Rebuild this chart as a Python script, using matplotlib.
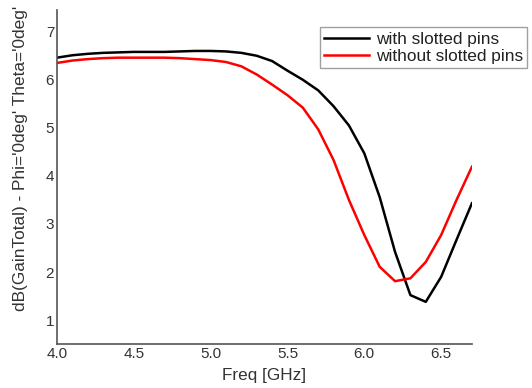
"""
Gain vs frequency: with / without slotted pins
"""
import matplotlib
matplotlib.use("Agg")
import matplotlib.pyplot as plt
import numpy as np

# Frequency sweep (GHz)
freq = [4.0, 4.1, 4.2, 4.3, 4.4, 4.5, 4.6, 4.7, 4.8, 4.9, 5.0, 5.1, 5.2, 5.3,
        5.4, 5.5, 5.6, 5.7, 5.8, 5.9, 6.0, 6.1, 6.2, 6.3, 6.4, 6.5, 6.6, 6.7]

# dB(GainTotal)
gain_with = [6.46, 6.51, 6.54, 6.56, 6.57, 6.58, 6.58, 6.58, 6.59, 6.60, 6.60,
             6.59, 6.56, 6.50, 6.39, 6.19, 6.00, 5.78, 5.45, 5.05, 4.47, 3.56,
             2.42, 1.52, 1.38, 1.90, 2.67, 3.43]
gain_without = [6.35, 6.40, 6.43, 6.45, 6.46, 6.46, 6.46, 6.46, 6.45, 6.43, 6.41,
                6.37, 6.28, 6.11, 5.90, 5.68, 5.42, 4.97, 4.33, 3.50, 2.77, 2.11,
                1.81, 1.87, 2.21, 2.77, 3.50, 4.19]

labels = ["with slotted pins", "without slotted pins"]
colors = ["black", "#ff0000"]

plt.rcParams["font.family"] = ["Liberation Sans", "DejaVu Sans"]
text_col = "#333333"

fig = plt.figure(figsize=(5.32, 3.88), dpi=100)
ax = fig.add_axes([0.107, 0.113, 0.78, 0.861])

ax.plot(freq, gain_with, color=colors[0], lw=1.8, label=labels[0])
ax.plot(freq, gain_without, color=colors[1], lw=1.8, label=labels[1])

ax.set_xlim(4.0, 6.7)
ax.set_ylim(0.5, 7.45)
ax.set_xticks(np.arange(4.0, 6.51, 0.5))
ax.set_xticklabels(["4.0", "4.5", "5.0", "5.5", "6.0", "6.5"])
ax.set_yticks([1, 2, 3, 4, 5, 6, 7])

for s in ["top", "right"]:
    ax.spines[s].set_visible(False)
for s in ["left", "bottom"]:
    ax.spines[s].set_color("#555555")
    ax.spines[s].set_linewidth(1.2)

ax.tick_params(length=0, labelsize=11, colors=text_col, pad=2)

ax.set_xlabel("Freq [GHz]", fontsize=12.3, color=text_col, labelpad=5)
ax.set_ylabel("dB(GainTotal) - Phi='0deg' Theta='0deg'", fontsize=12.4,
              color=text_col)
ax.yaxis.set_label_coords(-0.07, 0.557)

leg = ax.legend(loc="upper right", bbox_to_anchor=(1.133, 0.948), fontsize=12.4,
                frameon=True, fancybox=False, handlelength=2.6,
                borderpad=0.25, labelspacing=0.1, handletextpad=0.4,
                borderaxespad=0)
leg.get_frame().set_edgecolor("#888888")
leg.get_frame().set_linewidth(1.0)
for t in leg.get_texts():
    t.set_color("#222222")

fig.savefig("out.png", dpi=100)
